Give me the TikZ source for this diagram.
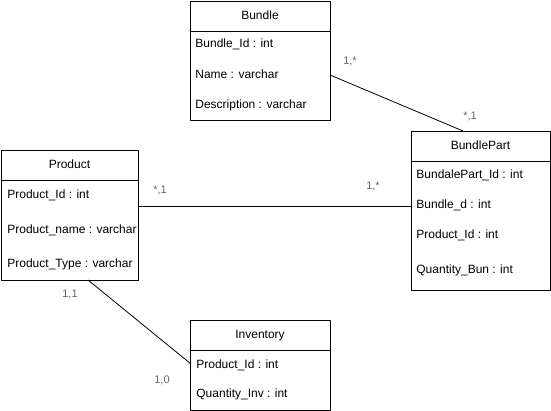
\documentclass[tikz,border=0pt]{standalone}
\usepackage{fontspec}
\setmainfont{Liberation Sans}
\tikzset{
  ent/.style={draw,anchor=north west,inner sep=0pt},
  fld/.style={anchor=west,inner sep=0pt,text height=9pt,text depth=2.5pt},
  ttl/.style={inner sep=0pt,text height=9pt,text depth=2.5pt},
  card/.style={inner sep=0pt,text=black!60,font=\fontsize{11}{13}\selectfont}
}
\begin{document}
\begin{tikzpicture}[x=1pt,y=-1pt,line join=round,line width=0.8pt,font=\fontsize{12}{14}\selectfont]
\useasboundingbox (0,0) rectangle (551,411);

% entity boxes
\node[ent,minimum width=140pt,minimum height=119pt] (bundle) at (190,1) {};
\node[ent,minimum width=137pt,minimum height=130pt] (product) at (1,150) {};
\node[ent,minimum width=139pt,minimum height=159pt] (bpart) at (411,131) {};
\node[ent,minimum width=140pt,minimum height=90pt] (inv) at (190,320) {};

\draw (bundle.west |- 0,31) -- (bundle.east |- 0,31);
\draw (product.west |- 0,180) -- (product.east |- 0,180);
\draw (bpart.west |- 0,161) -- (bpart.east |- 0,161);
\draw (inv.west |- 0,350) -- (inv.east |- 0,350);

% titles
\node[ttl] (tBundle) at (260,16) {Bundle};
\node[ttl] (tProduct) at (69.5,165) {Product};
\node[ttl] (tBPart) at (480.5,146) {BundlePart};
\node[ttl] (tInv) at (260,335) {Inventory};

% fields
\node[fld] (fB1) at (195,44) {Bundle\_Id : int};
\node[fld] (fB2) at (195,75) {Name : varchar};
\node[fld] (fB3) at (195,105) {Description : varchar};

\node[fld] (fP1) at (7,195) {Product\_Id : int};
\node[fld] (fP2) at (7,230) {Product\_name : varchar};
\node[fld] (fP3) at (7,264) {Product\_Type : varchar};

\node[fld] (fBP1) at (416,175) {BundalePart\_Id : int};
\node[fld] (fBP2) at (416,205) {Bundle\_d : int};
\node[fld] (fBP3) at (416,235) {Product\_Id : int};
\node[fld] (fBP4) at (416,270) {Quantity\_Bun : int};

\node[fld] (fI1) at (196,365) {Product\_Id : int};
\node[fld] (fI2) at (196,394) {Quantity\_Inv : int};

% relations
\coordinate (bB) at (330,75);
\coordinate (bBP) at (463,131);
\coordinate (pBP) at (139,206);
\coordinate (bpP) at (411,206);
\coordinate (pI) at (88,280);
\coordinate (iP) at (191,364);

\draw (bB) -- (bBP);
\draw (pBP) -- (bpP);
\draw (pI) -- (iP);

\node[card] (c1B) at (350,61) {1,*};
\node[card] (c1BP) at (470,116) {*,1};
\node[card] (c2P) at (160,190) {*,1};
\node[card] (c2BP) at (373,186) {1,*};
\node[card] (c3P) at (70,294) {1,1};
\node[card] (c3I) at (162,380) {1,0};
\end{tikzpicture}
\end{document}
